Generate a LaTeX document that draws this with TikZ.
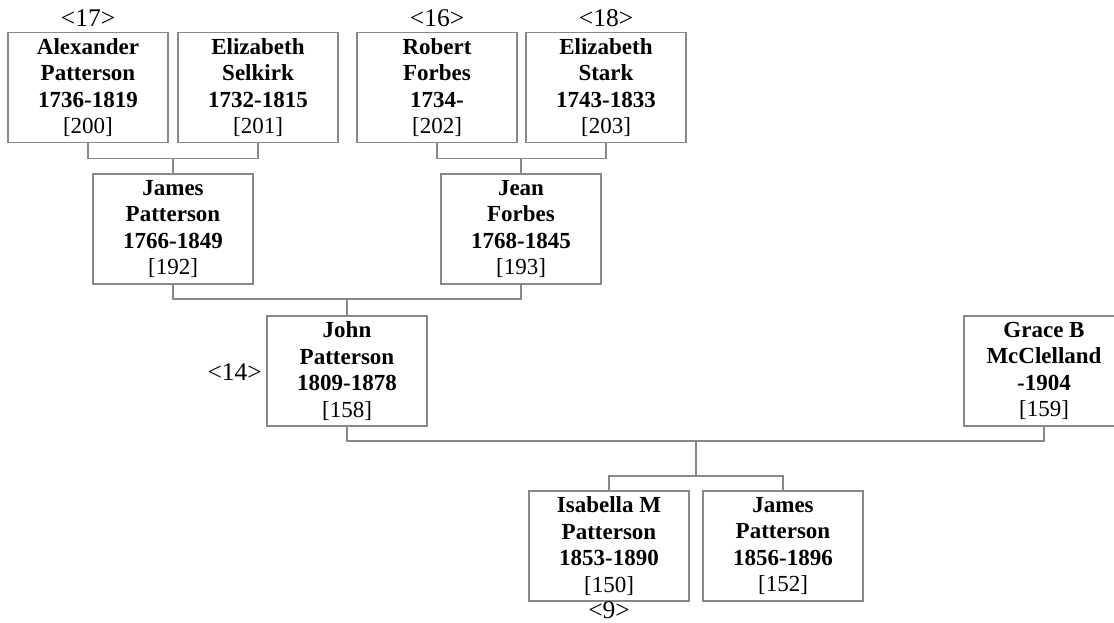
\documentclass[tikz,border=0pt]{standalone}
\usepackage{fontspec}
\setmainfont{Liberation Serif}
\usetikzlibrary{calc}
\definecolor{boxgray}{HTML}{888888}
\newcommand{\personbox}[4]{\textbf{#1}\\\textbf{#2}\\\textbf{#3}\\{}[#4]}
\begin{document}
\begin{tikzpicture}[x=1pt,y=-1pt,
  person/.style={draw=boxgray, line width=1.2pt, minimum width=160pt, minimum height=110pt,
    inner sep=0pt, outer sep=0pt, align=center, font=\fontsize{23}{26.6}\selectfont},
  link/.style={draw=boxgray, line width=1.2pt},
  tag/.style={font=\fontsize{25.5}{28}\selectfont, inner sep=0pt}]
\clip (0,0) rectangle (1114,623);
% generation 1
\node[person] (A) at (88,87.5) {\personbox{Alexander}{Patterson}{1736-1819}{200}};
\node[person] (B) at (258,87.5) {\personbox{Elizabeth}{Selkirk}{1732-1815}{201}};
\node[person] (C) at (437,87.5) {\personbox{Robert}{Forbes}{1734-}{202}};
\node[person] (D) at (606,87.5) {\personbox{Elizabeth}{Stark}{1743-1833}{203}};
% generation 2
\node[person] (JP1) at (173,229) {\personbox{James}{Patterson}{1766-1849}{192}};
\node[person] (JF) at (521,229) {\personbox{Jean}{Forbes}{1768-1845}{193}};
% generation 3
\node[person] (JP) at (347,371) {\personbox{John}{Patterson}{1809-1878}{158}};
\node[person] (GM) at (1044,371) {\personbox{Grace B}{McClelland}{-1904}{159}};
% generation 4
\node[person] (IP) at (609,546) {\personbox{Isabella M}{Patterson}{1853-1890}{150}};
\node[person] (JS) at (783,546) {\personbox{James}{Patterson}{1856-1896}{152}};
% connectors
\draw[link] (A.south) -- ++(0,16) -| (B.south);
\draw[link] (JP1.north) -- ++(0,-16);
\draw[link] (C.south) -- ++(0,16) -| (D.south);
\draw[link] (JF.north) -- ++(0,-16);
\draw[link] (JP1.south) -- ++(0,15) -| (JF.south);
\draw[link] (JP.north) -- ++(0,-17);
\draw[link] (JP.south) -- ++(0,15) -| (GM.south);
\draw[link] (IP.north) -- ++(0,-15) -| (JS.north);
\coordinate (sib) at ($(IP.north)!0.5!(JS.north)+(0,-15)$);
\coordinate (fam) at ($(sib |- JP.south)+(0,15)$);
\draw[link] (fam) -- (sib);
% tags
\node[tag, anchor=base] (t17) at ([yshift=6pt]A.north) {<17>};
\node[tag, anchor=base] (t16) at ([yshift=6pt]C.north) {<16>};
\node[tag, anchor=base] (t18) at ([yshift=6pt]D.north) {<18>};
\node[tag, anchor=base east] (t14) at ([xshift=-5pt,yshift=-9pt]JP.west) {<14>};
\node[tag, anchor=base] (t9) at ([yshift=-17pt]IP.south) {<9>};
\end{tikzpicture}
\end{document}
